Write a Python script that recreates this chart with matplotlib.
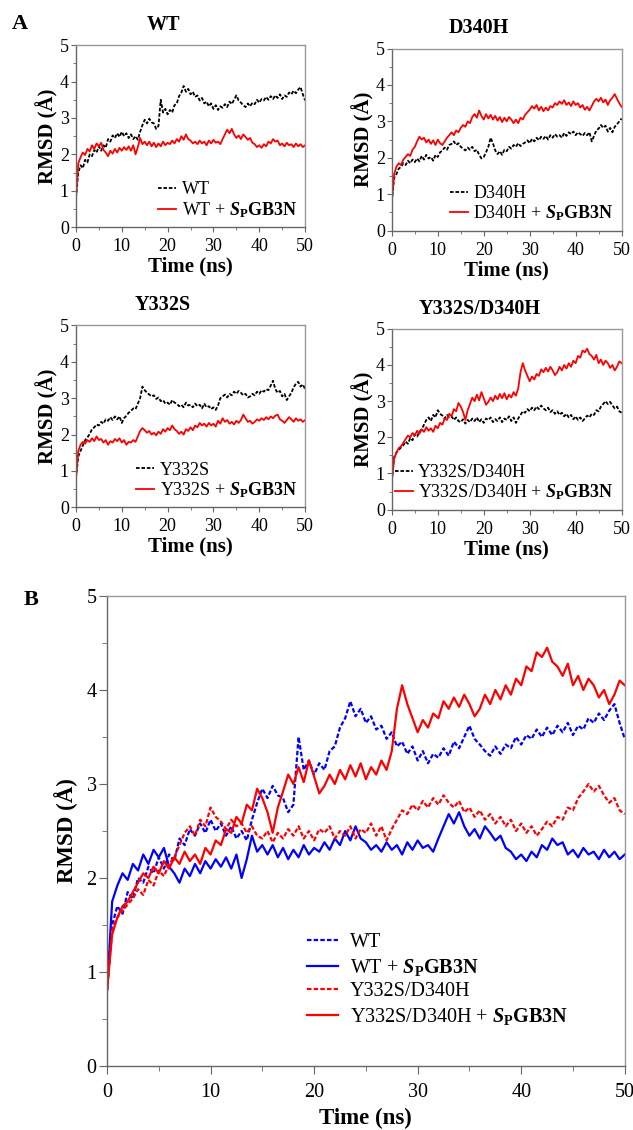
import numpy as np
import matplotlib
matplotlib.use("Agg")
import matplotlib.pyplot as plt
from matplotlib.ticker import MultipleLocator

plt.rcParams['font.family'] = ['Liberation Serif', 'DejaVu Serif']
plt.rcParams['mathtext.fontset'] = 'custom'
plt.rcParams['mathtext.rm'] = 'Liberation Serif'
plt.rcParams['mathtext.it'] = 'Liberation Serif:italic'
plt.rcParams['mathtext.bf'] = 'Liberation Serif:bold'
plt.rcParams['mathtext.bfit'] = 'Liberation Serif:bold:italic'

# time axis, 0.5 ns sampling
time = np.arange(101) * 0.5

wt = [0.80, 1.50, 1.70, 1.62, 1.85, 1.78, 2.00, 1.95, 2.12, 2.05,
      2.22, 2.10, 2.25, 2.18, 2.42, 2.35, 2.52, 2.45, 2.58, 2.48,
      2.62, 2.50, 2.58, 2.45, 2.55, 2.42, 2.50, 2.40, 2.62, 2.80,
      2.95, 2.85, 2.98, 2.88, 2.85, 2.70, 2.78, 3.50, 3.15, 3.25,
      3.10, 3.22, 3.15, 3.35, 3.40, 3.60, 3.70, 3.88, 3.72, 3.80,
      3.65, 3.72, 3.58, 3.62, 3.48, 3.55, 3.40, 3.45, 3.32, 3.40,
      3.25, 3.35, 3.22, 3.32, 3.28, 3.38, 3.30, 3.45, 3.38, 3.50,
      3.62, 3.48, 3.42, 3.35, 3.30, 3.40, 3.32, 3.42, 3.38, 3.50,
      3.42, 3.52, 3.48, 3.58, 3.50, 3.60, 3.52, 3.62, 3.55, 3.65,
      3.52, 3.62, 3.58, 3.70, 3.65, 3.75, 3.68, 3.78, 3.85, 3.65,
      3.48]

wt_sp = [0.80, 1.75, 1.92, 2.05, 1.98, 2.15, 2.08, 2.25, 2.15, 2.30,
         2.22, 2.32, 2.12, 2.05, 1.95, 2.10, 2.02, 2.15, 2.05, 2.18,
         2.10, 2.20, 2.12, 2.22, 2.10, 2.25, 2.00, 2.20, 2.45, 2.28,
         2.35, 2.25, 2.35, 2.22, 2.32, 2.20, 2.30, 2.22, 2.35, 2.25,
         2.32, 2.28, 2.38, 2.30, 2.42, 2.35, 2.50, 2.40, 2.55, 2.42,
         2.38, 2.30, 2.35, 2.28, 2.38, 2.30, 2.35, 2.25, 2.38, 2.30,
         2.40, 2.32, 2.35, 2.28, 2.42, 2.55, 2.68, 2.58, 2.70, 2.55,
         2.45, 2.52, 2.42, 2.55, 2.48, 2.40, 2.45, 2.32, 2.28, 2.20,
         2.25, 2.18, 2.28, 2.22, 2.35, 2.30, 2.42, 2.35, 2.38, 2.25,
         2.30, 2.22, 2.32, 2.25, 2.28, 2.20, 2.30, 2.22, 2.28, 2.20,
         2.25]

d340h = [0.80, 1.45, 1.55, 1.70, 1.75, 1.85, 1.80, 1.92, 1.85, 1.95,
         1.88, 1.98, 1.90, 2.05, 1.95, 2.08, 1.98, 2.02, 1.92, 2.08,
         2.02, 2.15, 2.20, 2.28, 2.22, 2.35, 2.38, 2.45, 2.35, 2.40,
         2.30, 2.25, 2.20, 2.28, 2.22, 2.30, 2.18, 2.22, 2.08, 1.98,
         2.02, 2.15, 2.30, 2.55, 2.40, 2.20, 2.10, 2.18, 2.08, 2.22,
         2.18, 2.30, 2.25, 2.35, 2.30, 2.40, 2.32, 2.38, 2.42, 2.48,
         2.40, 2.52, 2.45, 2.55, 2.48, 2.58, 2.52, 2.60, 2.50, 2.62,
         2.55, 2.65, 2.58, 2.62, 2.55, 2.68, 2.60, 2.70, 2.65, 2.72,
         2.62, 2.70, 2.65, 2.60, 2.68, 2.62, 2.70, 2.45, 2.60, 2.75,
         2.80, 2.90, 2.82, 2.88, 2.72, 2.82, 2.70, 2.85, 2.92, 3.00,
         3.08]

d340h_sp = [0.80, 1.55, 1.75, 1.85, 1.80, 1.95, 2.02, 2.10, 2.05, 2.22,
            2.30, 2.45, 2.58, 2.50, 2.55, 2.42, 2.50, 2.38, 2.48, 2.35,
            2.50, 2.40, 2.35, 2.45, 2.55, 2.62, 2.70, 2.62, 2.75, 2.70,
            2.82, 2.90, 2.85, 3.00, 2.95, 3.12, 3.20, 3.10, 3.30, 3.15,
            3.05, 3.20, 3.08, 3.18, 3.05, 3.15, 3.02, 3.12, 2.98, 3.10,
            3.00, 3.12, 3.05, 2.95, 3.05, 2.95, 3.10, 3.05, 3.18, 3.25,
            3.32, 3.42, 3.35, 3.45, 3.30, 3.40, 3.28, 3.38, 3.30, 3.42,
            3.38, 3.50, 3.45, 3.55, 3.48, 3.58, 3.45, 3.52, 3.42, 3.55,
            3.45, 3.50, 3.38, 3.45, 3.32, 3.40, 3.30, 3.42, 3.55, 3.62,
            3.55, 3.65, 3.52, 3.60, 3.45, 3.58, 3.65, 3.75, 3.62, 3.50,
            3.40]

y332s = [0.80, 1.40, 1.55, 1.70, 1.85, 1.92, 2.02, 2.15, 2.20, 2.28,
         2.25, 2.35, 2.30, 2.42, 2.38, 2.48, 2.40, 2.50, 2.42, 2.50,
         2.32, 2.45, 2.52, 2.60, 2.65, 2.72, 2.70, 2.85, 3.00, 3.32,
         3.22, 3.15, 3.10, 3.05, 3.08, 2.98, 3.02, 2.92, 2.95, 2.85,
         2.88, 2.82, 2.95, 2.88, 2.85, 2.78, 2.82, 2.75, 2.88, 2.80,
         2.82, 2.75, 2.85, 2.78, 2.82, 2.72, 2.85, 2.75, 2.78, 2.70,
         2.75, 2.68, 2.80, 3.00, 3.05, 3.10, 3.02, 3.12, 3.08, 3.18,
         3.12, 3.20, 3.15, 3.08, 3.12, 3.02, 3.05, 3.12, 3.08, 3.18,
         3.12, 3.22, 3.18, 3.25, 3.22, 3.35, 3.48, 3.25, 3.15, 3.20,
         3.05, 3.12, 2.95, 3.05, 3.15, 3.30, 3.40, 3.45, 3.32, 3.38,
         3.25]

y332s_sp = [0.80, 1.55, 1.72, 1.80, 1.75, 1.85, 1.80, 1.90, 1.82, 1.95,
            1.85, 1.88, 1.78, 1.85, 1.72, 1.82, 1.78, 1.88, 1.82, 1.90,
            1.78, 1.85, 1.72, 1.80, 1.78, 1.85, 1.80, 1.95, 2.10, 2.18,
            2.12, 2.05, 2.10, 2.00, 2.05, 1.98, 2.08, 2.02, 2.15, 2.08,
            2.18, 2.12, 2.25, 2.15, 2.10, 2.02, 2.08, 2.00, 2.15, 2.10,
            2.20, 2.12, 2.25, 2.20, 2.32, 2.25, 2.30, 2.22, 2.32, 2.25,
            2.30, 2.22, 2.38, 2.30, 2.45, 2.35, 2.40, 2.30, 2.35, 2.28,
            2.38, 2.32, 2.40, 2.55, 2.45, 2.35, 2.38, 2.30, 2.35, 2.42,
            2.38, 2.45, 2.40, 2.48, 2.42, 2.50, 2.45, 2.52, 2.55, 2.42,
            2.38, 2.32, 2.40, 2.48, 2.42, 2.35, 2.45, 2.38, 2.42, 2.35,
            2.40]

yd = [0.80, 1.45, 1.58, 1.65, 1.72, 1.78, 1.88, 1.82, 1.98, 1.92,
      2.08, 2.02, 2.15, 2.22, 2.35, 2.48, 2.55, 2.45, 2.62, 2.55,
      2.75, 2.65, 2.60, 2.52, 2.62, 2.55, 2.58, 2.48, 2.55, 2.45,
      2.42, 2.50, 2.38, 2.48, 2.42, 2.52, 2.45, 2.55, 2.42, 2.50,
      2.40, 2.52, 2.48, 2.55, 2.42, 2.50, 2.45, 2.55, 2.42, 2.52,
      2.48, 2.58, 2.45, 2.55, 2.40, 2.52, 2.62, 2.72, 2.68, 2.78,
      2.72, 2.82, 2.75, 2.85, 2.78, 2.88, 2.80, 2.75, 2.82, 2.70,
      2.75, 2.65, 2.72, 2.62, 2.68, 2.58, 2.65, 2.55, 2.62, 2.50,
      2.58, 2.48, 2.55, 2.45, 2.52, 2.60, 2.55, 2.65, 2.62, 2.75,
      2.72, 2.85, 2.92, 3.00, 2.92, 2.98, 2.88, 2.80, 2.85, 2.72,
      2.68]

yd_sp = [0.80, 1.40, 1.58, 1.70, 1.75, 1.85, 1.95, 2.05, 2.00, 2.12,
         2.05, 2.18, 2.10, 2.22, 2.15, 2.28, 2.18, 2.25, 2.15, 2.32,
         2.25, 2.40, 2.35, 2.52, 2.48, 2.65, 2.58, 2.78, 2.72, 2.95,
         2.85, 2.70, 2.48, 2.75, 2.92, 3.10, 3.00, 3.18, 3.02, 3.25,
         3.08, 2.90, 2.98, 3.10, 3.00, 3.15, 3.05, 3.20, 3.08, 3.22,
         3.05, 3.18, 3.10, 3.25, 3.15, 3.35, 3.80, 4.05, 3.85, 3.70,
         3.55, 3.68, 3.60, 3.75, 3.70, 3.88, 3.80, 3.92, 3.82, 3.95,
         3.85, 3.72, 3.80, 3.95, 3.85, 4.00, 3.90, 4.05, 3.95, 4.12,
         4.05, 4.25, 4.20, 4.40, 4.35, 4.45, 4.30, 4.25, 4.15, 4.28,
         4.05, 4.15, 4.00, 4.12, 4.05, 3.92, 4.00, 3.85, 3.95, 4.10,
         4.05]

SP = r'$\mathbfit{S}_{\mathbf{P}}\mathbf{GB3N}$'
SPINE = '#666666'


def style_axes(ax, tick_size, major_len, minor_len, pad):
    ax.set_xlim(0, 50)
    ax.set_ylim(0, 5)
    ax.xaxis.set_major_locator(MultipleLocator(10))
    ax.xaxis.set_minor_locator(MultipleLocator(5))
    ax.yaxis.set_major_locator(MultipleLocator(1))
    ax.yaxis.set_minor_locator(MultipleLocator(0.5))
    ax.tick_params(which='both', direction='out', top=False, right=False,
                   color=SPINE, labelsize=tick_size)
    ax.tick_params(which='major', length=major_len)
    ax.tick_params(which='minor', length=minor_len)
    ax.tick_params(axis='x', pad=pad)
    ax.tick_params(axis='y', pad=1.5)
    for s in ax.spines.values():
        s.set_color(SPINE)
        s.set_linewidth(1.0)
    ax.spines['top'].set_color('#999999')
    ax.spines['right'].set_color('#999999')


fig = plt.figure(figsize=(6.33, 11.3), dpi=100)

panels = [
    ('WT', wt, wt_sp, [0.120, 0.799, 0.362, 0.161]),
    ('D340H', d340h, d340h_sp, [0.619, 0.796, 0.363, 0.161]),
    ('Y332S', y332s, y332s_sp, [0.120, 0.551, 0.362, 0.161]),
    ('Y332S/D340H', yd, yd_sp, [0.619, 0.549, 0.363, 0.160]),
]

for name, free, bound, pos in panels:
    ax = fig.add_axes(pos)
    ax.plot(time, free, color='black', lw=1.3, ls=(0, (2, 1)), label=name)
    ax.plot(time, bound, color='red', lw=1.3, label=name + ' + ' + SP)
    style_axes(ax, 13, 3.5, 2, 4.5)
    ax.set_title(name, fontsize=14.5, fontweight='bold', pad=11, x=0.38)
    ax.set_xlabel('Time (ns)', fontsize=15, fontweight='bold', labelpad=1)
    ax.set_ylabel('RMSD (Å)', fontsize=15, fontweight='bold', labelpad=1)
    ax.legend(loc='lower right', bbox_to_anchor=(1.02, -0.03), frameon=False,
              fontsize=13, handlelength=1.0, handletextpad=0.3,
              labelspacing=0.1, borderaxespad=0.3)

fig.text(0.018, 0.979, 'A', fontsize=16, fontweight='bold', va='center')
fig.text(0.037, 0.469, 'B', fontsize=16, fontweight='bold', va='center')

axb = fig.add_axes([0.169, 0.0566, 0.818, 0.416])
axb.plot(time, wt, color='blue', lw=1.6, ls=(0, (2, 1)), label='WT')
axb.plot(time, wt_sp, color='blue', lw=1.6, label='WT + ' + SP)
axb.plot(time, yd, color='red', lw=1.6, ls=(0, (2, 1)), label='Y332S/D340H')
axb.plot(time, yd_sp, color='red', lw=1.6, label='Y332S/D340H + ' + SP)
style_axes(axb, 14.5, 6, 3.5, 6.5)
axb.set_xlabel('Time (ns)', fontsize=16.5, fontweight='bold', labelpad=4)
axb.set_ylabel('RMSD (Å)', fontsize=16.5, fontweight='bold', labelpad=6)
axb.legend(loc='upper left', bbox_to_anchor=(0.37, 0.30), frameon=False,
           fontsize=14.5, handlelength=1.55, handletextpad=0.6,
           labelspacing=0.22, borderaxespad=0.0)

fig.savefig('out.png', dpi=100)
